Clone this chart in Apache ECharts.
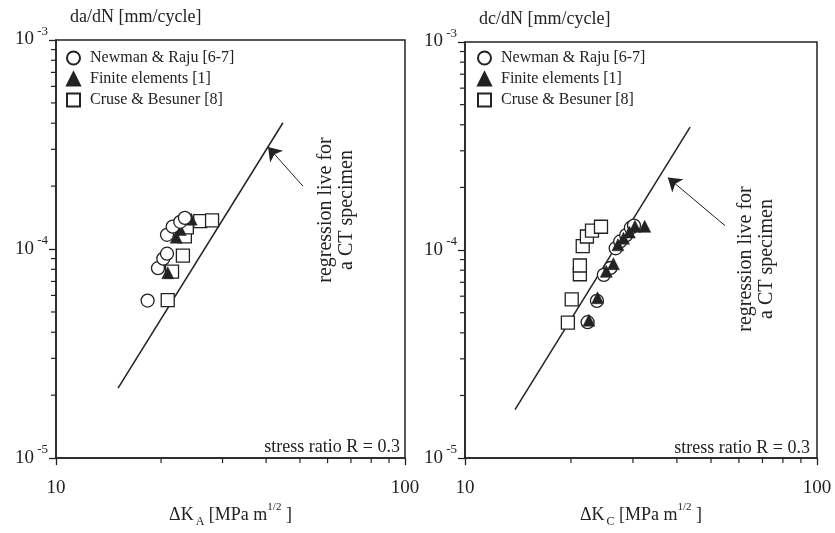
<!DOCTYPE html>
<html>
<head>
<meta charset="utf-8">
<script src="https://cdn.jsdelivr.net/npm/echarts@6/dist/echarts.min.js"></script>
<style>
  html, body { margin: 0; padding: 0; background: #fff; }
  #chart { width: 835px; height: 533px; }
</style>
</head>
<body>
<div id="chart"></div>
<script>
// data (x = delta K [MPa m^1/2], y = growth rate [mm/cycle])
const names = ['Newman & Raju [6-7]', 'Finite elements [1]', 'Cruse & Besuner [8]'];

const leftCircles = [[18.3, 5.67e-5], [19.6, 8.1e-5], [20.3, 9.0e-5], [20.8, 9.5e-5],
  [20.8, 1.17e-4], [21.6, 1.28e-4], [22.7, 1.35e-4], [23.4, 1.41e-4]];
const leftTriangles = [[20.9, 7.7e-5], [22.1, 1.14e-4], [22.7, 1.24e-4], [24.4, 1.39e-4]];
const leftSquares = [[20.9, 5.7e-5], [21.5, 7.8e-5], [23.1, 9.3e-5], [23.4, 1.15e-4],
  [23.7, 1.27e-4], [25.9, 1.36e-4], [28.0, 1.37e-4]];
const leftRegression = [[15.06, 2.16e-5], [44.7, 4.02e-4]];

const rightCircles = [[22.3, 4.5e-5], [23.7, 5.7e-5], [24.8, 7.6e-5], [25.9, 8.2e-5],
  [26.8, 1.02e-4], [27.6, 1.1e-4], [28.7, 1.18e-4], [29.6, 1.28e-4], [30.2, 1.31e-4]];
const rightTriangles = [[22.5, 4.6e-5], [23.8, 5.9e-5], [25.2, 7.9e-5], [26.4, 8.6e-5],
  [27.2, 1.06e-4], [28.2, 1.14e-4], [29.3, 1.22e-4], [30.4, 1.3e-4], [32.4, 1.3e-4]];
const rightSquares = [[19.6, 4.48e-5], [20.1, 5.79e-5], [21.2, 7.65e-5], [21.2, 8.43e-5],
  [21.6, 1.044e-4], [22.2, 1.162e-4], [22.95, 1.239e-4], [24.34, 1.294e-4]];
const rightRegression = [[13.87, 1.71e-5], [43.6, 3.9e-4]];

// arrow tail -> tip
const leftArrow = [[51.0, 2.0e-4], [40.5, 3.08e-4]];
const rightArrow = [[54.8, 1.31e-4], [37.7, 2.23e-4]];

const minorX = [20, 30, 40, 50, 60, 70, 80, 90];
const minorY = [2e-5, 3e-5, 4e-5, 5e-5, 6e-5, 7e-5, 8e-5, 9e-5,
  2e-4, 3e-4, 4e-4, 5e-4, 6e-4, 7e-4, 8e-4, 9e-4];

const ink = '#222';
const serif = 'Liberation Serif';

const chart = echarts.init(document.getElementById('chart'));

function xAxisFor(idx, sub) {
  return {
    type: 'log', gridIndex: idx, min: 10, max: 100,
    name: '{n|\u0394K}{sub|' + sub + '}{n| [MPa m}{sup|1/2}{n| ]}',
    nameLocation: 'middle', nameGap: 40,
    nameTextStyle: {
      rich: {
        n: { fontFamily: serif, fontSize: 18, color: ink, lineHeight: 26, verticalAlign: 'middle' },
        sub: { fontFamily: serif, fontSize: 12, color: ink, lineHeight: 26, verticalAlign: 'bottom', padding: [0, 0, 0, 2] },
        sup: { fontFamily: serif, fontSize: 11, color: ink, lineHeight: 26, verticalAlign: 'top' }
      }
    },
    axisLine: { lineStyle: { color: ink, width: 1.5 } },
    axisTick: { length: 7, lineStyle: { color: ink, width: 1.3 } },
    splitLine: { show: false },
    axisLabel: { margin: 20, fontFamily: serif, fontSize: 19, color: ink }
  };
}

function yAxisFor(idx, title) {
  return {
    type: 'log', gridIndex: idx, min: 1e-5, max: 1e-3,
    name: title, nameLocation: 'end', nameGap: 14,
    nameTextStyle: { fontFamily: serif, fontSize: 18, color: ink, align: 'left', padding: [0, 0, 0, 14] },
    axisLine: { lineStyle: { color: ink, width: 1.5 } },
    axisTick: { length: 7, lineStyle: { color: ink, width: 1.3 } },
    splitLine: { show: false },
    axisLabel: {
      margin: 8, verticalAlign: 'middle', padding: [0, 0, 6, 0],
      formatter: v => '{b|10}{s| ' + Math.round(Math.log10(v)) + '}',
      rich: {
        b: { fontFamily: serif, fontSize: 19, color: ink, lineHeight: 24, verticalAlign: 'bottom' },
        s: { fontFamily: serif, fontSize: 13, color: ink, lineHeight: 24, verticalAlign: 'top' }
      }
    }
  };
}

function minorTicks(idx, vals, dir) {
  const data = vals.map(v => dir === 'x' ? [v, 1e-5] : [10, v]);
  return {
    type: 'custom', xAxisIndex: idx, yAxisIndex: idx, clip: false, silent: true,
    data: data,
    renderItem: (params, api) => {
      const p = api.coord([api.value(0), api.value(1)]);
      const shape = dir === 'x'
        ? { x1: p[0], y1: p[1], x2: p[0], y2: p[1] + 5 }
        : { x1: p[0], y1: p[1], x2: p[0] - 5, y2: p[1] };
      return { type: 'line', shape: shape, style: { stroke: ink, lineWidth: 1.2 } };
    }
  };
}

function marks(idx, circles, triangles, squares, zc, zt, zs) {
  return [
    { name: names[0], type: 'scatter', xAxisIndex: idx, yAxisIndex: idx, data: circles, z: zc,
      symbol: 'circle', symbolSize: 13,
      itemStyle: { color: '#fff', borderColor: ink, borderWidth: 1.3, opacity: 1 } },
    { name: names[1], type: 'scatter', xAxisIndex: idx, yAxisIndex: idx, data: triangles, z: zt,
      symbol: 'triangle', symbolSize: 12,
      itemStyle: { color: ink, borderColor: ink, borderWidth: 0.5, opacity: 1 } },
    { name: names[2], type: 'scatter', xAxisIndex: idx, yAxisIndex: idx, data: squares, z: zs,
      symbol: 'rect', symbolSize: 13,
      itemStyle: { color: '#fff', borderColor: ink, borderWidth: 1.3, opacity: 1 } }
  ];
}

function regression(idx, line, arrow) {
  return {
    name: 'regression', type: 'line', xAxisIndex: idx, yAxisIndex: idx, data: line,
    symbol: 'none', silent: true, z: 1,
    lineStyle: { color: ink, width: 1.5 },
    markLine: {
      silent: true, symbol: ['none', 'arrow'], symbolSize: 13,
      lineStyle: { type: 'solid', color: ink, width: 1 },
      label: { show: false },
      data: [[{ coord: arrow[0] }, { coord: arrow[1] }]]
    }
  };
}

function legendFor(left) {
  return {
    data: names, orient: 'vertical', left: left, top: 45,
    itemWidth: 13, itemHeight: 13, itemGap: 5,
    textStyle: { fontFamily: serif, fontSize: 16, color: ink, padding: [0, 0, 0, 5] }
  };
}

function noteText(x, y, text) {
  return {
    type: 'text', x: x, y: y,
    style: { text: text, font: '18px ' + serif, fill: ink, align: 'right', verticalAlign: 'middle' }
  };
}

function rotText(x, y) {
  return {
    type: 'text', x: x, y: y, rotation: Math.PI / 2,
    style: {
      text: 'regression live for\na CT specimen', font: '20px ' + serif, fill: ink,
      align: 'center', verticalAlign: 'middle', lineHeight: 21
    }
  };
}

chart.setOption({
  backgroundColor: '#fff',
  animation: false,
  grid: [
    { left: 56, top: 40, width: 349, height: 432, show: true, borderColor: ink, borderWidth: 1.5 },
    { left: 465, top: 42, width: 352, height: 431, show: true, borderColor: ink, borderWidth: 1.5 }
  ],
  xAxis: [xAxisFor(0, 'A'), xAxisFor(1, 'C')],
  yAxis: [yAxisFor(0, 'da/dN [mm/cycle]'), yAxisFor(1, 'dc/dN [mm/cycle]')],
  legend: [legendFor(61), legendFor(472)],
  graphic: [
    noteText(400, 447, 'stress ratio R = 0.3'),
    noteText(810, 448, 'stress ratio R = 0.3'),
    rotText(336, 210),
    rotText(756, 259)
  ],
  series: [
    regression(0, leftRegression, leftArrow),
    ...marks(0, leftCircles, leftTriangles, leftSquares, 4, 3, 2),
    minorTicks(0, minorX, 'x'),
    minorTicks(0, minorY, 'y'),
    regression(1, rightRegression, rightArrow),
    ...marks(1, rightCircles, rightTriangles, rightSquares, 3, 4, 2),
    minorTicks(1, minorX, 'x'),
    minorTicks(1, minorY, 'y')
  ]
});
</script>
</body>
</html>
